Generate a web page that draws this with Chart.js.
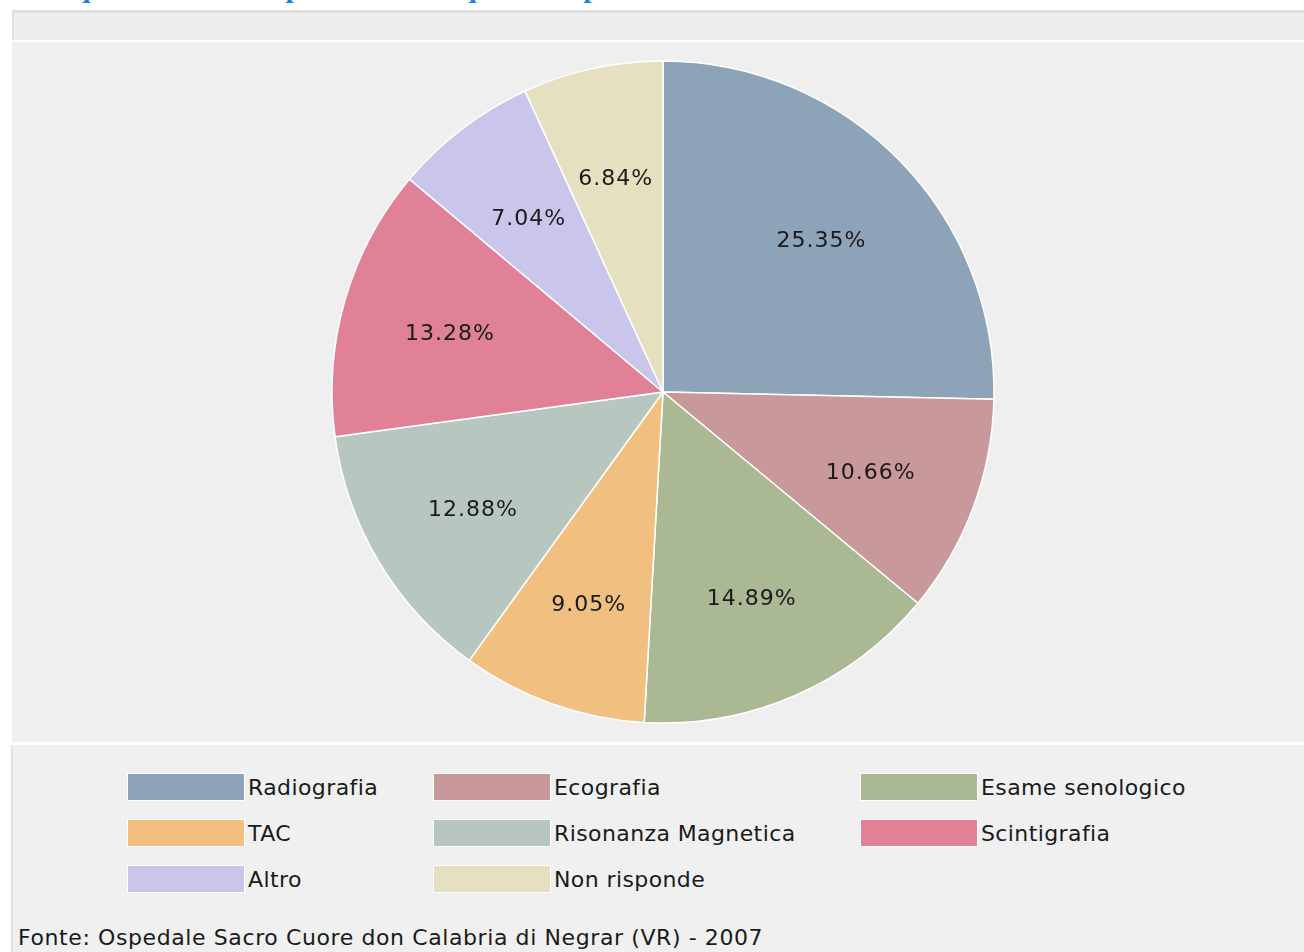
<!DOCTYPE html>
<html>
<head>
<meta charset="utf-8">
<script src="https://cdn.jsdelivr.net/npm/chart.js@4/dist/chart.umd.min.js"></script>
<style>
  html, body { margin: 0; padding: 0; background: #ffffff; }
  body { width: 1304px; height: 952px; position: relative; overflow: hidden; font-family: "DejaVu Sans", sans-serif; }
  #title { position: absolute; left: 38px; top: -28px; font: bold 30px "Liberation Serif", serif; line-height: 30px; color: #1a80e6; white-space: nowrap; }
  #header { position: absolute; left: 12px; top: 10px; width: 1292px; height: 27px; background: #eeeeee; border-top: 3px solid #dedede; box-shadow: inset 2px 0 0 #e2e2e2; }
  #chartBox { position: absolute; left: 12px; top: 42px; width: 1292px; height: 700px; background: #efefef; }
  #legendBox { position: absolute; left: 11px; top: 745px; width: 1293px; height: 207px; background: #f0f0f0; box-shadow: inset 2px 0 0 #e2e2e2; }
  .item { position: absolute; height: 28px; display: flex; align-items: center; font-size: 22px; letter-spacing: 0.4px; color: #1a1a1a; white-space: nowrap; }
  .sw { width: 116px; height: 26px; border: 1px solid #ffffff; margin-right: 3px; }
  #source { position: absolute; left: 18px; top: 925px; font-size: 22px; letter-spacing: 0.6px; color: #1a1a1a; white-space: nowrap; }
</style>
</head>
<body>
<div id="title"></div>
<div id="header"></div>
<div id="chartBox"><canvas id="c" width="1292" height="700"></canvas></div>
<div id="legendBox"></div>
<div id="source"></div>
<script>
const titleText = "In quale esame si è presentato in questo in particolare";
const sourceText = "Fonte: Ospedale Sacro Cuore don Calabria di Negrar (VR) - 2007";
const categories = ["Radiografia", "Ecografia", "Esame senologico", "TAC", "Risonanza Magnetica", "Scintigrafia", "Altro", "Non risponde"];
const percentages = [25.35, 10.66, 14.89, 9.05, 12.88, 13.28, 7.04, 6.84];
const sliceColors = ["#8DA3B8", "#C9989A", "#AAB893", "#F1BF80", "#B7C7C0", "#E08198", "#CAC5EA", "#E5E0BF"];

document.getElementById('title').textContent = titleText;
document.getElementById('source').textContent = sourceText;

// legend (3 columns grid)
const legendCols = [127, 433, 860];
const legendRows = [773, 819, 865];
const lb = document.getElementById('legendBox');
categories.forEach((name, i) => {
  const d = document.createElement('div');
  d.className = 'item';
  d.style.left = (legendCols[i % 3] - 11) + 'px';
  d.style.top = (legendRows[Math.floor(i / 3)] - 745) + 'px';
  const s = document.createElement('div');
  s.className = 'sw';
  s.style.background = sliceColors[i];
  d.appendChild(s);
  const t = document.createElement('span');
  t.textContent = name;
  d.appendChild(t);
  lb.appendChild(d);
});

const labelPlugin = {
  id: 'sliceLabels',
  afterDatasetsDraw(chart) {
    const ctx = chart.ctx;
    const meta = chart.getDatasetMeta(0);
    ctx.save();
    ctx.font = '22px "DejaVu Sans"';
    try { ctx.letterSpacing = '1px'; } catch (e) {}
    ctx.fillStyle = '#1a1a1a';
    ctx.textAlign = 'center';
    ctx.textBaseline = 'middle';
    meta.data.forEach((arc, i) => {
      const p = arc.getProps(['x', 'y', 'startAngle', 'endAngle', 'outerRadius'], true);
      const mid = (p.startAngle + p.endAngle) / 2;
      const r = p.outerRadius * 0.67;
      ctx.fillText(percentages[i].toFixed(2) + '%', p.x + Math.cos(mid) * r, p.y + Math.sin(mid) * r + 4);
    });
    ctx.restore();
  }
};

new Chart(document.getElementById('c'), {
  type: 'pie',
  data: {
    labels: categories,
    datasets: [{
      data: percentages,
      backgroundColor: sliceColors,
      borderColor: '#ffffff',
      borderWidth: 1.5
    }]
  },
  options: {
    responsive: false,
    animation: false,
    radius: 331,
    layout: { padding: { left: 10, right: 0, top: 0, bottom: 0 } },
    plugins: { legend: { display: false }, tooltip: { enabled: false } }
  },
  plugins: [labelPlugin]
});
</script>
</body>
</html>
